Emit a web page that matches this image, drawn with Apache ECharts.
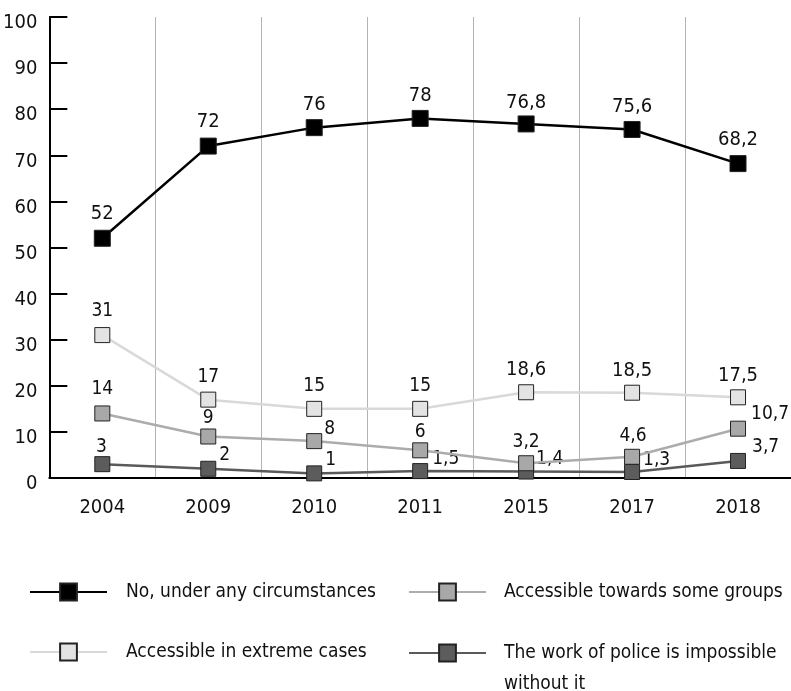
<!DOCTYPE html>
<html>
<head>
<meta charset="utf-8">
<script src="https://cdn.jsdelivr.net/npm/echarts@6/dist/echarts.min.js"></script>
<style>
  html, body { margin: 0; padding: 0; background: #fff; }
  #chart { width: 791px; height: 691px; }
</style>
</head>
<body>
<div id="chart"></div>
<script>
// Survey years and shares (%) for each answer
const years = ['2004', '2009', '2010', '2011', '2015', '2017', '2018'];
const noCircumstances = [52, 72, 76, 78, 76.8, 75.6, 68.2];
const extremeCases = [31, 17, 15, 15, 18.6, 18.5, 17.5];
const someGroups = [14, 9, 8, 6, 3.2, 4.6, 10.7];
const policeImpossible = [3, 2, 1, 1.5, 1.4, 1.3, 3.7];
const yTicks = [0, 10, 20, 30, 40, 50, 60, 70, 80, 90, 100];

const NAME_NO = 'No, under any circumstances';
const NAME_EXTREME = 'Accessible in extreme cases';
const NAME_GROUPS = 'Accessible towards some groups';
const NAME_POLICE = 'The work of police is impossible without it';

const FONT = '"DejaVu Sans Condensed", "Liberation Sans", sans-serif';
const fmt = v => String(v).replace('.', ',');

// value label placement relative to the marker centre: [dx, dy, align, fontSize]
const placeNo = [[0, -24, 'center', 20], [0, -24, 'center', 20], [0, -23, 'center', 20], [0, -23, 'center', 20],
                 [0, -21, 'center', 20], [0, -23, 'center', 20], [0, -24, 'center', 20]];
const placeExtreme = [[0, -24, 'center', 19], [0, -23, 'center', 19], [0, -23, 'center', 19], [0, -23, 'center', 19],
                      [0, -22, 'center', 20], [0, -22, 'center', 20], [0, -22, 'center', 20]];
const placeGroups = [[0, -24, 'center', 19], [0, -18, 'center', 19], [10, -12, 'left', 19], [0, -18, 'center', 19],
                     [0, -21, 'center', 19], [1, -21, 'center', 19], [13, -15, 'left', 19]];
const placePolice = [[-1, -17, 'center', 19], [11, -14, 'left', 19], [11, -13, 'left', 19], [12, -12, 'left', 19],
                     [10, -12, 'left', 19], [11, -12, 'left', 19], [14, -14, 'left', 19]];

function points(values, place) {
  return values.map((v, i) => ({
    value: v,
    label: {
      position: 'inside',
      offset: [place[i][0], place[i][1]],
      align: place[i][2],
      fontSize: place[i][3]
    }
  }));
}

function lineSeries(name, values, place, lineColor, fill, size, z) {
  return {
    name: name,
    type: 'line',
    data: points(values, place),
    symbol: 'rect',
    symbolSize: size,
    z: z,
    lineStyle: { color: lineColor, width: 2.5 },
    itemStyle: { color: fill, borderColor: '#222', borderWidth: 1 },
    label: {
      show: true,
      color: '#111',
      fontFamily: FONT,
      formatter: p => fmt(p.value)
    },
    emphasis: { disabled: true },
    animation: false
  };
}

// one legend block per entry, laid out in two columns
function legendItem(name, left, top, textPadLeft, extra) {
  return Object.assign({
    left: left, top: top,
    padding: 0,
    itemWidth: 77, itemHeight: 21,
    selectedMode: false,
    textStyle: { fontFamily: FONT, fontSize: 19, color: '#111', padding: [0, 0, 0, textPadLeft] },
    data: [name]
  }, extra || {});
}

const chart = echarts.init(document.getElementById('chart'));
chart.setOption({
  backgroundColor: '#fff',
  animation: false,
  grid: { left: 48, right: 0, top: 17, bottom: 213, containLabel: false },
  xAxis: {
    type: 'category',
    data: years,
    boundaryGap: true,
    axisLine: { lineStyle: { color: '#000', width: 2 } },
    axisTick: { show: false },
    axisLabel: { color: '#111', fontFamily: FONT, fontSize: 20, margin: 20 },
    splitLine: { show: true, lineStyle: { color: '#b3b3b3', width: 1 } }
  },
  yAxis: {
    type: 'value',
    min: yTicks[0],
    max: yTicks[yTicks.length - 1],
    interval: 10,
    axisLine: { show: true, lineStyle: { color: '#000', width: 2 } },
    axisTick: { show: true, inside: true, length: 18, lineStyle: { color: '#000', width: 2 } },
    axisLabel: { color: '#111', fontFamily: FONT, fontSize: 20, margin: 12, verticalAlign: 'top', lineHeight: 12 },
    splitLine: { show: false }
  },
  legend: [
    legendItem(NAME_NO, 29, 582.5, 14),
    legendItem(NAME_EXTREME, 29, 642.5, 14),
    legendItem(NAME_GROUPS, 408, 582.5, 13),
    // the leading blank line keeps the first text line level with the icon
    legendItem(NAME_POLICE, 408, 606.5, 13, {
      formatter: n => '\n' + n.replace(' without', '\nwithout'),
      textStyle: { fontFamily: FONT, fontSize: 19, color: '#111', lineHeight: 31, padding: [0, 0, 0, 13] }
    })
  ],
  series: [
    lineSeries(NAME_EXTREME, extremeCases, placeExtreme, '#d9d9d9', '#e3e3e3', 15, 2),
    lineSeries(NAME_POLICE, policeImpossible, placePolice, '#5a5a5a', '#5c5c5c', 15, 3),
    lineSeries(NAME_GROUPS, someGroups, placeGroups, '#acacac', '#a8a8a8', 15, 4),
    lineSeries(NAME_NO, noCircumstances, placeNo, '#000', '#000', 16, 5)
  ]
});
</script>
</body>
</html>
